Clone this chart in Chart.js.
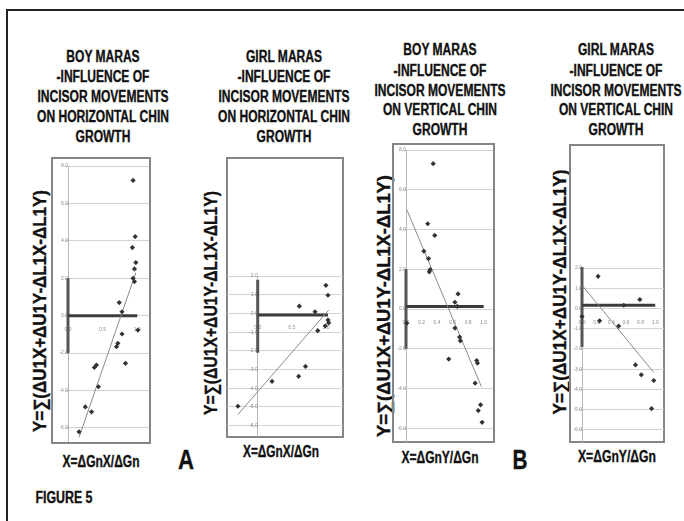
<!DOCTYPE html>
<html><head><meta charset="utf-8">
<script src="https://cdn.jsdelivr.net/npm/chart.js@4.4.0/dist/chart.umd.min.js"></script>
<style>
html,body{margin:0;padding:0;background:#fff;width:684px;height:521px;overflow:hidden;position:relative;}
.t{position:absolute;white-space:nowrap;transform-origin:0 0;color:#111;-webkit-text-stroke:0.35px #111;}
.box{position:absolute;border:2px solid #858585;box-sizing:border-box;}
canvas{position:absolute;}
</style></head><body>
<div style="position:absolute;left:6px;top:9px;width:700px;height:600px;border-top:2px solid #222;border-left:2px solid #222;"></div>
<script>
// ---------- DATA ----------
// Panel 1: Boy Maras, horizontal
const boyHorizX = [0.94,0.97,0.93,0.98,0.96,0.94,0.96,0.74,0.78,1.01,0.78,0.72,0.70,0.83,0.38,0.41,0.44,0.25,0.34,0.16];
const boyHorizY = [7.23,4.23,3.64,2.84,2.50,2.00,1.82,0.70,0.21,-0.77,-0.98,-1.48,-1.66,-2.55,-2.77,-2.64,-3.80,-4.88,-5.14,-6.21];
const boyHorizTrendX = [0.16,0.98];
const boyHorizTrendY = [-6.5,2.3];
// Panel 2: Girl Maras, horizontal
const girlHorizX = [1.00,1.03,0.61,0.84,1.03,1.04,0.99,0.88,0.70,0.60,0.21,-0.29];
const girlHorizY = [1.50,0.97,0.39,0.09,-0.35,-0.50,-0.67,-0.92,-2.83,-3.36,-3.63,-4.96];
const girlHorizTrendX = [-0.29,1.04];
const girlHorizTrendY = [-5.4,0.18];
// Panel 3: Boy Maras, vertical
const boyVertX = [0.35,0.28,0.37,0.23,0.29,0.31,0.30,0.67,0.63,0.66,0.01,0.63,0.69,0.70,0.55,0.91,0.92,0.89,0.96,0.93,0.98];
const boyVertY = [7.31,4.29,3.70,2.91,2.54,1.98,1.87,0.76,0.34,0.13,-0.71,-0.96,-1.41,-1.60,-2.52,-2.59,-2.72,-3.73,-4.82,-5.11,-5.70];
const boyVertTrendX = [0.01,0.97];
const boyVertTrendY = [5.0,-3.9];
// Panel 4: Girl Maras, vertical
const girlVertX = [0.22,0.00,0.24,0.57,0.79,0.50,0.73,0.81,0.98,0.95];
const girlVertY = [1.59,-0.40,-0.61,0.16,0.44,-0.87,-2.79,-3.28,-3.56,-4.95];
const girlVertTrendX = [0.0,0.98];
const girlVertTrendY = [1.15,-3.16];
// Hand-drawn reference cross (horizontal bar 0..1, vertical bar -2..2)
const crossH1X=[0,1.0],  crossH1Y=[0,0],       crossV1Y=[-2.0,2.0];
const crossH2X=[0,1.03], crossH2Y=[-0.08,-0.08], crossV2Y=[-2.1,1.8];
const crossH3X=[0,1.0],  crossH3Y=[0.13,0.13], crossV3Y=[-2.0,2.0];
const crossH4X=[0,1.0],  crossH4Y=[0.16,0.16], crossV4Y=[-1.9,2.05];
// Tick labels
const yTicksTall = [8,6,4,2,0,-2,-4,-6];
const yTicksShort = [2,1,0,-1,-2,-3,-4,-5,-6];
const xTicksHalf = [0,0.5,1.0];
const xTicksFifth = [0,0.2,0.4,0.6,0.8,1.0];
// Texts
const titleBoyH = ["BOY MARAS","-INFLUENCE OF","INCISOR MOVEMENTS","ON HORIZONTAL CHIN","GROWTH"];
const titleGirlH = ["GIRL MARAS","-INFLUENCE OF","INCISOR MOVEMENTS","ON HORIZONTAL CHIN","GROWTH"];
const titleBoyV = ["BOY MARAS","-INFLUENCE OF","INCISOR MOVEMENTS","ON VERTICAL CHIN","GROWTH"];
const titleGirlV = ["GIRL MARAS","-INFLUENCE OF","INCISOR MOVEMENTS","ON VERTICAL CHIN","GROWTH"];
const yLabel = "Y=\u2211(\u0394U1X+\u0394U1Y-\u0394L1X-\u0394L1Y)";
const xLabelH = "X=\u0394GnX/\u0394Gn";
const xLabelV = "X=\u0394GnY/\u0394Gn";

// ---------- TEXT HELPERS ----------
const FAM = "'Liberation Sans Narrow','Liberation Sans',Arial,sans-serif";
function makeText(txt, size, weight){
  const d = document.createElement('div');
  d.className = 't';
  d.textContent = txt;
  d.style.font = weight + ' ' + size + 'px ' + FAM;
  d.style.lineHeight = '1';
  d.style.left = '0px'; d.style.top = '0px';
  document.body.appendChild(d);
  return d;
}
function place(d, cx, cy, sx, rot){
  d.style.left = cx + 'px'; d.style.top = cy + 'px';
  d.style.transform = 'rotate(' + (rot||0) + 'deg) scale(' + sx + ',1) translate(-50%,-50%)';
}
function fitText(txt, cx, cy, size, weight, width, rot){
  const d = makeText(txt, size, weight);
  const w = d.getBoundingClientRect().width;
  place(d, cx, cy, width / w, rot);
}
const titleSize = 16;
const probe = makeText("INCISOR MOVEMENTS", titleSize, 'bold');
const titleScale = 131 / probe.getBoundingClientRect().width;
probe.remove();
function title(lines, cx, ys){
  lines.forEach((l,i) => place(makeText(l, titleSize, 'bold'), cx, ys[i], titleScale, 0));
}
const ysHigh = [56.5,77,97,116.5,136.5];
const ysLow = [50,71,90.5,110,130];
title(titleBoyH, 103, ysHigh);
title(titleGirlH, 284, ysHigh);
title(titleBoyV, 440, ysLow);
title(titleGirlV, 616, ysLow);

fitText(yLabel, 40, 311, 18, 'bold', 242, -90);
fitText(yLabel, 211, 303, 18, 'bold', 224, -90);
fitText(yLabel, 384, 306, 18, 'bold', 262, -90);
fitText(yLabel, 560, 292, 18, 'bold', 245, -90);

fitText(xLabelH, 100.5, 461.5, 16, 'bold', 77, 0);
fitText(xLabelH, 281, 452, 16, 'bold', 76, 0);
fitText(xLabelV, 440, 458, 16, 'bold', 77, 0);
fitText(xLabelV, 617, 457, 16, 'bold', 78, 0);
fitText("A", 186, 459.5, 28, 'bold', 16, 0);
fitText("B", 520, 459.5, 28, 'bold', 15, 0);
fitText("FIGURE 5", 63.5, 498, 16, 'bold', 57, 0);

// ---------- CHARTS ----------
function pts(xs, ys){ return xs.map((x,i) => ({x:x, y:ys[i]})); }
function vline(ys){ return ys.map(y => ({x:0, y:y})); }
function addBox(l,t,r,b){
  const d = document.createElement('div'); d.className='box';
  d.style.left=l+'px'; d.style.top=t+'px'; d.style.width=(r-l)+'px'; d.style.height=(b-t)+'px';
  document.body.appendChild(d);
}
function panel(cfg){
  addBox(cfg.box[0], cfg.box[1], cfg.box[2], cfg.box[3]);
  const padL=22, padR=6, padT=6, padB=10;
  const L = Math.round(cfg.plot[0]), T = Math.round(cfg.plot[1]);
  const R = Math.round(cfg.plot[2]), B = Math.round(cfg.plot[3]);
  const cv = document.createElement('canvas');
  cv.width = R - L + padL + padR; cv.height = B - T + padT + padB;
  cv.style.left = (L - padL) + 'px'; cv.style.top = (T - padT) + 'px';
  cv.style.width = cv.width + 'px'; cv.style.height = cv.height + 'px';
  document.body.appendChild(cv);
  const tickFont = {family: "'Liberation Sans',Arial,sans-serif", size: 5};
  new Chart(cv, {
    type: 'scatter',
    data: { datasets: [
      {data: pts(cfg.x, cfg.y), pointStyle:'rectRot', pointRadius:2.6, backgroundColor:'#333', borderWidth:0, clip:false},
      {data: pts(cfg.tx, cfg.ty), showLine:true, pointRadius:0, borderColor:'#8a8a8a', borderWidth:1, clip:false},
      {data: pts(cfg.hx, cfg.hy), showLine:true, pointRadius:0, borderColor:'#3c3c3c', borderWidth:3, clip:false},
      {data: vline(cfg.vy), showLine:true, pointRadius:0, borderColor:'#555', borderWidth:3, clip:false}
    ]},
    options: {
      responsive:false, maintainAspectRatio:false, animation:false, devicePixelRatio:1,
      layout:{padding:{left:padL, right:padR, top:padT, bottom:padB}},
      plugins:{legend:{display:false}, tooltip:{enabled:false}},
      scales:{
        x:{type:'linear', position:{y:0}, min:cfg.xr[0], max:cfg.xr[1],
           afterBuildTicks: s => { s.ticks = cfg.xt.map(v => ({value:v})); },
           grid:{display:false}, border:{display:false},
           ticks:{autoSkip:false, maxRotation:0, padding:3, color:'#8a8a8a', font:tickFont, callback:v => Number(v).toFixed(1)}},
        y:{type:'linear', position:{x:0}, min:cfg.yr[0], max:cfg.yr[1],
           afterBuildTicks: s => { s.ticks = cfg.yt.map(v => ({value:v})); },
           grid:{color:'#d2d2d2', lineWidth:1, tickLength:3, drawTicks:true},
           border:{display:true, color:'#b8b8b8', width:1},
           ticks:{autoSkip:false, padding:3, color:'#8a8a8a', font:tickFont, callback:v => Number(v).toFixed(1)}}
      }
    }
  });
}
panel({box:[51,157,151,444], plot:[68,166,149,441], xr:[0,1.17], yr:[-6.7,8],
  x:boyHorizX, y:boyHorizY, tx:boyHorizTrendX, ty:boyHorizTrendY,
  hx:crossH1X, hy:crossH1Y, vy:crossV1Y, xt:xTicksHalf, yt:yTicksTall});
panel({box:[226,157,344,438], plot:[227,276,343,436], xr:[-0.45,1.25], yr:[-6.55,2],
  x:girlHorizX, y:girlHorizY, tx:girlHorizTrendX, ty:girlHorizTrendY,
  hx:crossH2X, hy:crossH2Y, vy:crossV2Y, xt:xTicksHalf, yt:yTicksShort});
panel({box:[392,143,495,443], plot:[405.5,150,493,441], xr:[0,1.12], yr:[-6.64,8],
  x:boyVertX, y:boyVertY, tx:boyVertTrendX, ty:boyVertTrendY,
  hx:crossH3X, hy:crossH3Y, vy:crossV3Y, xt:xTicksFifth, yt:yTicksTall});
panel({box:[569,144,665,443], plot:[582.3,267.7,664,442], xr:[0,1.12], yr:[-6.6,2],
  x:girlVertX, y:girlVertY, tx:girlVertTrendX, ty:girlVertTrendY,
  hx:crossH4X, hy:crossH4Y, vy:crossV4Y, xt:xTicksFifth, yt:yTicksShort});
</script>
</body></html>
